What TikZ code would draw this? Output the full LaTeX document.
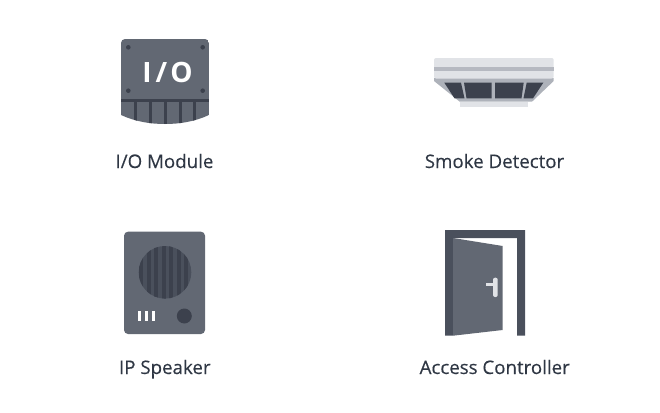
\documentclass[tikz,border=0pt]{standalone}
\usepackage{fontspec}
\setmainfont[FakeBold=0.25]{Open Sans}
\newfontfamily\iofont{Open Sans Bold}
\definecolor{slate}{HTML}{626873}
\definecolor{ink}{HTML}{3C414D}
\definecolor{frame}{HTML}{4A505C}
\definecolor{mist}{HTML}{E1E3E7}
\definecolor{ash}{HTML}{AEB2BA}
\definecolor{labelink}{HTML}{2F3744}
\tikzset{
  caption/.style={text=labelink, font=\fontsize{18.7}{20}\selectfont, inner sep=0pt, anchor=base},
  screw/.style={fill=ink},
  bar/.style={fill=ink},
  pane/.style={fill=ink},
}
\begin{document}
\begin{tikzpicture}[x=1pt,y=-1pt]
\useasboundingbox (0,0) rectangle (660,412);
% I/O module
\begin{scope}
\clip [rounded corners=4pt] (121,150) -- (121,39) -- (209,39) -- (209,150) -- cycle;
\clip (121,115) .. controls (135,121.5) and (150,124) .. (165,124)
      .. controls (180,124) and (195,121.5) .. (209,115) -- (209,30) -- (121,30) -- cycle;
\fill [slate] (121,39) rectangle (209,124);
\fill [bar] (121,98.5) rectangle (209,101.5);
\foreach \x in {135,150,165,180,194}
  \fill [bar] (\x-1.5,101) -- ++(3,0) -- ++(0,24) -- ++(-3,0) -- cycle;
\end{scope}
\foreach \x in {128.3,202.7}
  \foreach \y in {47.3,90.7}
    \fill [screw] (\x,\y) circle (2.3pt);
\node (iotext) at (167.5,72) [text=white, inner sep=0pt, font=\fontsize{28}{30}\selectfont\iofont] {I\hspace{4pt}/\hspace{3pt}O};
\node (iolabel) at (164.5,168) [caption] {I/O Module};
% smoke detector
\fill [ash] (434,78) -- (553.7,78) -- (553.7,81) -- (532,101.7) -- (459.7,101.7) -- (434,81) -- cycle;
\fill [mist] (459.7,101.7) rectangle (528,107);
\fill [mist, rounded corners=2pt] (434,78.5) -- (434,58) -- (553.7,58) -- (553.7,78.5) -- cycle;
\fill [ash!85!mist] (434,67.3) rectangle (553.7,70.7);
\fill [pane] (444.3,82.7) -- (461,82.7) -- (464.5,98.3) -- (454.5,98.3) -- cycle;
\fill [pane] (464,82.7) -- (491.7,82.7) -- (491.7,98.3) -- (466.5,98.3) -- cycle;
\fill [pane] (495,82.7) -- (523.7,82.7) -- (521.5,98.3) -- (495,98.3) -- cycle;
\fill [pane] (526.7,82.7) -- (543.3,82.7) -- (533,98.3) -- (523.5,98.3) -- cycle;
\node (smokelabel) at (494.5,168) [caption] {Smoke Detector};
% IP speaker
\fill [slate, rounded corners=4pt] (124,231.7) rectangle (205,334);
\begin{scope}
\clip (165,272.3) circle (26.3pt);
\fill [frame] (138,245) rectangle (192,299);
\foreach \x in {141,148.5,156,163.5,171,178.5,186}
  \fill [ink] (\x-2,245) rectangle (\x+2,299);
\end{scope}
\foreach \x in {138,145,151.7}
  \fill [white] (\x,311) -- ++(3.3,0) -- ++(0,10) -- ++(-3.3,0) -- cycle;
\fill [ink] (184.3,316) circle (7.5pt);
\node (speakerlabel) at (164.8,374) [caption] {IP Speaker};
% access controller
\fill [frame] (445,335.7) -- (445,230) -- (525,230) -- (525,335.7) -- (517,335.7)
      -- (517,238) -- (453,238) -- (453,335.7) -- cycle;
\fill [slate] (453,238) -- (502.7,246) -- (502.7,330) -- (453,335.7) -- cycle;
\fill [mist, rounded corners=2pt] (493,277.7) rectangle (497.7,297);
\fill [mist] (486,283) rectangle (496,286);
\node (doorlabel) at (494.7,374) [caption] {Access Controller};
\end{tikzpicture}
\end{document}
